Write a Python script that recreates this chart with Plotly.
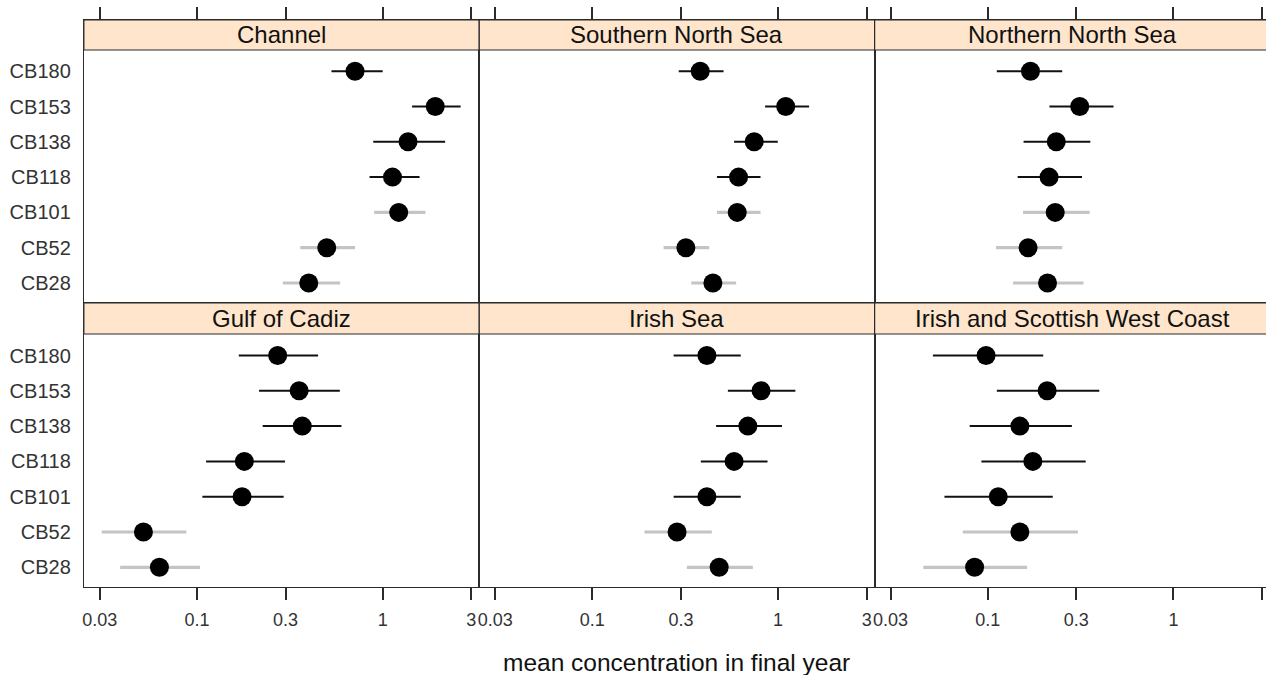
import math
import plotly.graph_objects as go

# ---------------- data ----------------
compounds = ["CB28", "CB52", "CB101", "CB118", "CB138", "CB153", "CB180"]
regions = ["Channel", "Southern North Sea", "Northern North Sea",
           "Gulf of Cadiz", "Irish Sea", "Irish and Scottish West Coast"]

# values in compound order: CB28, CB52, CB101, CB118, CB138, CB153, CB180
channel_mean = [0.40, 0.50, 1.22, 1.13, 1.37, 1.92, 0.71]
channel_lo = [0.29, 0.36, 0.90, 0.85, 0.89, 1.44, 0.53]
channel_hi = [0.59, 0.71, 1.70, 1.58, 2.17, 2.63, 1.00]

sns_mean = [0.446, 0.319, 0.603, 0.613, 0.744, 1.10, 0.381]
sns_lo = [0.341, 0.242, 0.469, 0.469, 0.58, 0.852, 0.292]
sns_hi = [0.595, 0.426, 0.805, 0.805, 0.997, 1.47, 0.509]

nns_mean = [0.210, 0.165, 0.231, 0.214, 0.234, 0.313, 0.170]
nns_lo = [0.137, 0.111, 0.155, 0.145, 0.156, 0.215, 0.112]
nns_hi = [0.328, 0.252, 0.354, 0.322, 0.357, 0.476, 0.252]

gc_mean = [0.0628, 0.0515, 0.175, 0.180, 0.369, 0.355, 0.272]
gc_lo = [0.0386, 0.0307, 0.107, 0.112, 0.226, 0.216, 0.168]
gc_hi = [0.104, 0.0877, 0.293, 0.298, 0.600, 0.588, 0.449]

is_mean = [0.482, 0.286, 0.414, 0.580, 0.688, 0.81, 0.414]
is_lo = [0.323, 0.191, 0.274, 0.384, 0.464, 0.537, 0.274]
is_hi = [0.732, 0.440, 0.630, 0.878, 1.05, 1.24, 0.630]

iswc_mean = [0.085, 0.149, 0.114, 0.175, 0.149, 0.209, 0.098]
iswc_lo = [0.045, 0.0734, 0.0585, 0.0925, 0.080, 0.112, 0.0507]
iswc_hi = [0.163, 0.306, 0.224, 0.337, 0.284, 0.399, 0.199]

# compounds whose interval is drawn in grey
channel_grey = ["CB28", "CB52", "CB101"]
sns_grey = ["CB28", "CB52", "CB101"]
nns_grey = ["CB28", "CB52", "CB101"]
gc_grey = ["CB28", "CB52"]
is_grey = ["CB28", "CB52"]
iswc_grey = ["CB28", "CB52"]

tick_vals = [0.03, 0.1, 0.3, 1, 3]
tick_text = ["0.03", "0.1", "0.3", "1", "3"]

panels = [
    (channel_mean, channel_lo, channel_hi, channel_grey),
    (sns_mean, sns_lo, sns_hi, sns_grey),
    (nns_mean, nns_lo, nns_hi, nns_grey),
    (gc_mean, gc_lo, gc_hi, gc_grey),
    (is_mean, is_lo, is_hi, is_grey),
    (iswc_mean, iswc_lo, iswc_hi, iswc_grey),
]

# ---------------- geometry (pixels) ----------------
W, H = 1266, 675
col_px = [(82, 478), (478, 874), (874, 1266)]
row_px = [(20, 303, 50), (303, 587, 334)]   # top, bottom, strip bottom
PX_DEC = 186.0
X_LO = math.log10(0.03) - 16 / PX_DEC
UNIT = 35.3
y_ranges = [(-20 / UNIT, -20 / UNIT + 283 / UNIT), (-19.7 / UNIT, -19.7 / UNIT + 284 / UNIT)]

FONT = "Liberation Sans, Arial, sans-serif"
FRAME = "#2b2b2b"
GREY = "#c4c4c4"

def fx(px):
    return px / W

def fy(px):
    return 1 - px / H

fig = go.Figure()
layout = dict(
    width=W, height=H, margin=dict(l=0, r=0, t=0, b=0),
    paper_bgcolor="white", plot_bgcolor="white", showlegend=False,
    font=dict(family=FONT, color="#222"),
)
shapes = []
annotations = []

for i, (mean, lo, hi, grey) in enumerate(panels):
    r, c = divmod(i, 3)
    n = i + 1
    xa = "x" if n == 1 else f"x{n}"
    ya = "y" if n == 1 else f"y{n}"
    xkey = "xaxis" if n == 1 else f"xaxis{n}"
    ykey = "yaxis" if n == 1 else f"yaxis{n}"
    x0, x1 = col_px[c]
    top, bot, sbot = row_px[r]

    for is_grey_group in (True, False):
        idx = [k for k, cb in enumerate(compounds) if (cb in grey) == is_grey_group]
        fig.add_trace(go.Scatter(
            x=[mean[k] for k in idx],
            y=[compounds[k] for k in idx],
            mode="markers",
            marker=dict(color="black", size=19, line=dict(width=0)),
            error_x=dict(type="data", symmetric=False,
                         array=[hi[k] - mean[k] for k in idx],
                         arrayminus=[mean[k] - lo[k] for k in idx],
                         color=GREY if is_grey_group else "#111",
                         thickness=3.2 if is_grey_group else 2,
                         width=0),
            xaxis=xa, yaxis=ya, hoverinfo="x+y",
        ))

    layout[xkey] = dict(
        domain=[fx(x0), fx(x1)], anchor=ya, type="log",
        range=[X_LO, X_LO + (x1 - x0) / PX_DEC],
        tickvals=tick_vals, ticktext=tick_text,
        side="top" if r == 0 else "bottom",
        showticklabels=(r == 1),
        ticks="outside", ticklen=12, tickwidth=1.5, tickcolor=FRAME,
        showgrid=False, zeroline=False,
        showline=True, mirror=True, linecolor=FRAME, linewidth=1.2,
        tickfont=dict(size=18, color="#333", family=FONT),
        ticklabelstandoff=4,
    )
    layout[ykey] = dict(
        domain=[fy(bot), fy(top)], anchor=xa, type="category",
        categoryorder="array", categoryarray=compounds,
        range=list(y_ranges[r]),
        showticklabels=(c == 0), ticks="",
        ticklabelstandoff=8,
        showgrid=False, zeroline=False,
        showline=True, mirror=(c < 2), linecolor=FRAME, linewidth=1.2,
        tickfont=dict(size=20, color="#333", family=FONT),
    )
    # strip
    sx1 = x1 if c < 2 else 1272
    shapes.append(dict(type="rect", xref="paper", yref="paper",
                       x0=fx(x0), x1=fx(sx1), y0=fy(sbot), y1=fy(top),
                       fillcolor="#ffe5cc", line=dict(color=FRAME, width=1.2),
                       layer="above"))
    cx = (x0 + x1) / 2 if c < 2 else (874 + 1270) / 2
    annotations.append(dict(text=regions[i], xref="paper", yref="paper",
                            x=fx(cx), y=fy((top + sbot) / 2), showarrow=False,
                            xanchor="center", yanchor="middle",
                            font=dict(size=24, color="#111", family=FONT)))

annotations.append(dict(text="mean concentration in final year", xref="paper", yref="paper",
                        x=fx(676), y=fy(662), showarrow=False,
                        xanchor="center", yanchor="middle",
                        font=dict(size=24.5, color="#111", family=FONT)))

layout["shapes"] = shapes
layout["annotations"] = annotations
fig.update_layout(**layout)
fig.write_html("out.html", config={"displayModeBar": False},
               post_script="document.body.style.margin='0';document.body.style.padding='0';")
